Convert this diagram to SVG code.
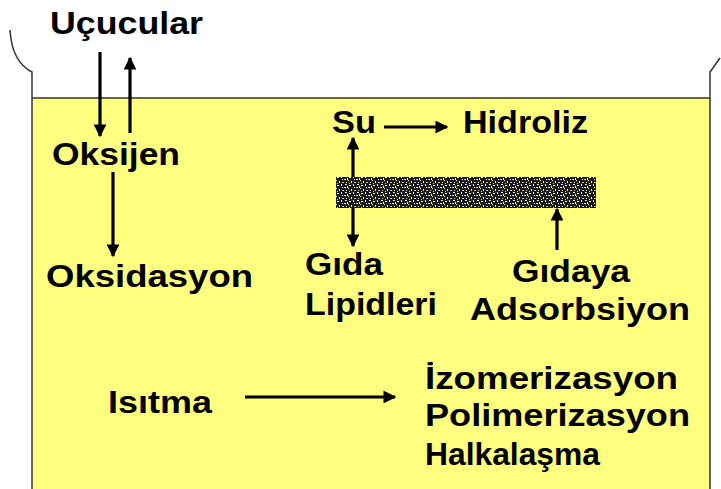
<svg xmlns="http://www.w3.org/2000/svg" width="721" height="489" viewBox="0 0 721 489">
<style>
.t{font-family:"Liberation Sans",Arial,sans-serif;font-weight:bold;font-size:31px;fill:#000}
.wall{fill:none;stroke:#333;stroke-width:1.5}
.ln{stroke:#000;stroke-width:3.2;fill:none}
</style>
<defs>
<marker id="ah" viewBox="0 0 10 10" refX="9" refY="5" markerWidth="4" markerHeight="4" orient="auto" markerUnits="strokeWidth">
<path d="M0,0 L10,5 L0,10 Z" fill="#000"/>
</marker>
<pattern id="speck" width="12" height="8" patternUnits="userSpaceOnUse">
<rect width="12" height="8" fill="#1a1a1a"/>
<rect x="1" y="1" width="2" height="1" fill="#fff"/>
<rect x="5" y="0" width="1" height="2" fill="#ffff80"/>
<rect x="8" y="3" width="2" height="1" fill="#ddd"/>
<rect x="3" y="5" width="1" height="2" fill="#ffff80"/>
<rect x="10" y="6" width="1" height="1" fill="#fff"/>
<rect x="6" y="6" width="2" height="1" fill="#bbb"/>
<rect x="0" y="4" width="1" height="1" fill="#ffff80"/>
<rect x="9" y="0" width="2" height="1" fill="#eee"/>
<rect x="6" y="3" width="1" height="1" fill="#ffff80"/>
<rect x="1" y="7" width="1" height="1" fill="#ccc"/>
<rect x="11" y="2" width="1" height="2" fill="#fff"/>
</pattern>
</defs>
<g id="container">
<rect x="32" y="98" width="678" height="391" fill="#ffff80"/>
<line class="wall" x1="32" y1="98" x2="710" y2="98"/>
<path class="wall" d="M10,30 Q12,62 32,72 L32,489"/>
<path class="wall" d="M720,58 L710,72 L710,489"/>
</g>
<g id="bar">
<rect x="336" y="177" width="260" height="31" fill="url(#speck)"/>
</g>
<g id="connectors">
<line class="ln" x1="100" y1="52" x2="100" y2="136" marker-end="url(#ah)"/>
<line class="ln" x1="130" y1="133" x2="130" y2="58" marker-end="url(#ah)"/>
<line class="ln" x1="113" y1="172" x2="113" y2="256" marker-end="url(#ah)"/>
<line class="ln" x1="384" y1="127" x2="447" y2="127" marker-end="url(#ah)"/>
<line class="ln" x1="353" y1="177" x2="353" y2="138" marker-end="url(#ah)"/>
<line class="ln" x1="353" y1="208" x2="353" y2="246" marker-end="url(#ah)"/>
<line class="ln" x1="557" y1="250" x2="557" y2="209" marker-end="url(#ah)"/>
<line class="ln" x1="245" y1="397" x2="395" y2="397" marker-end="url(#ah)"/>
</g>
<g id="n-ucucular"><text class="t" x="50" y="34" textLength="153" lengthAdjust="spacingAndGlyphs">Uçucular</text></g>
<g id="n-oksijen"><text class="t" x="52" y="165" textLength="128" lengthAdjust="spacingAndGlyphs">Oksijen</text></g>
<g id="n-oksidasyon"><text class="t" x="46" y="287" textLength="207" lengthAdjust="spacingAndGlyphs">Oksidasyon</text></g>
<g id="n-su"><text class="t" x="332" y="133" textLength="44" lengthAdjust="spacingAndGlyphs">Su</text></g>
<g id="n-hidroliz"><text class="t" x="463" y="133" textLength="125" lengthAdjust="spacingAndGlyphs">Hidroliz</text></g>
<g id="n-gida"><text class="t" x="305" y="275" textLength="78" lengthAdjust="spacingAndGlyphs">Gıda</text><text class="t" x="305" y="315" textLength="132" lengthAdjust="spacingAndGlyphs">Lipidleri</text></g>
<g id="n-gidaya"><text class="t" x="512" y="282" textLength="118" lengthAdjust="spacingAndGlyphs">Gıdaya</text><text class="t" x="470" y="320" textLength="220" lengthAdjust="spacingAndGlyphs">Adsorbsiyon</text></g>
<g id="n-isitma"><text class="t" x="108" y="413" textLength="104" lengthAdjust="spacingAndGlyphs">Isıtma</text></g>
<g id="n-products"><text class="t" x="425" y="389" textLength="253" lengthAdjust="spacingAndGlyphs">İzomerizasyon</text><text class="t" x="425" y="426" textLength="265" lengthAdjust="spacingAndGlyphs">Polimerizasyon</text><text class="t" x="425" y="465" textLength="175" lengthAdjust="spacingAndGlyphs">Halkalaşma</text></g>
</svg>
